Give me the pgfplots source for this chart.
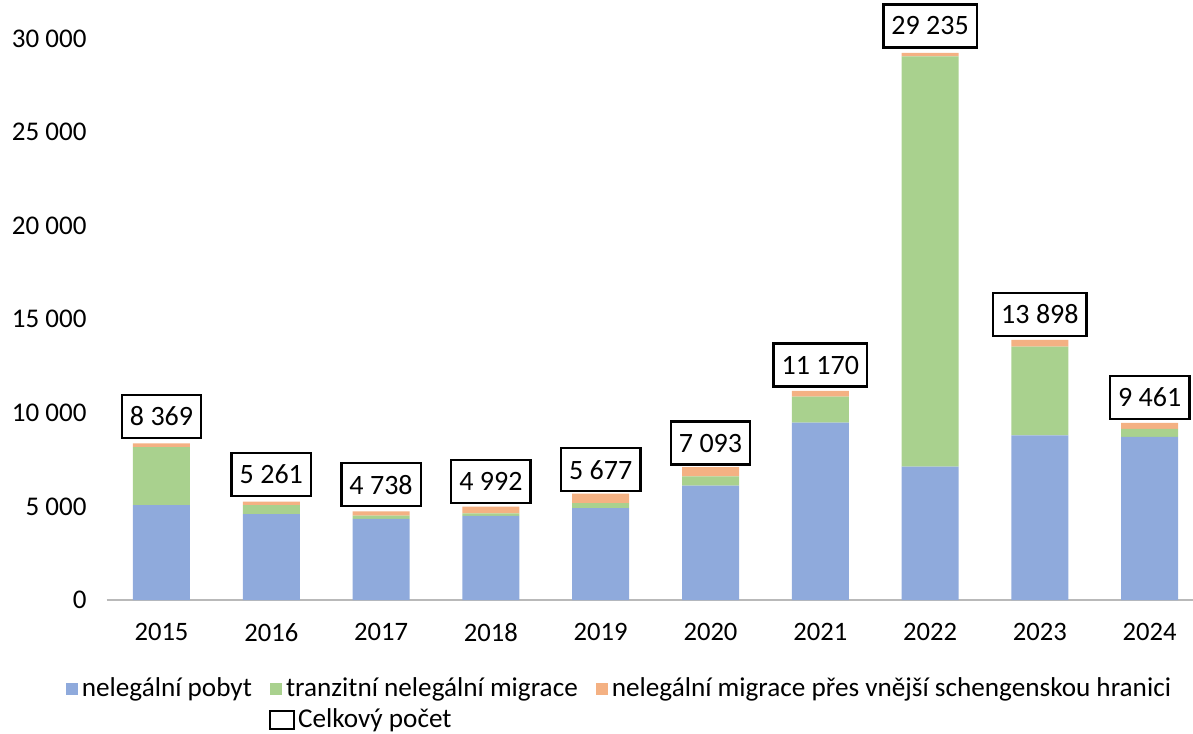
\documentclass[border=0pt]{standalone}
\usepackage{fontspec}
\setmainfont{Carlito}
\usepackage{pgfplots}
\usepackage{pgfplotstable}
\pgfplotsset{compat=1.18}
\definecolor{cblue}{HTML}{8FAADC}
\definecolor{cgreen}{HTML}{A9D18E}
\definecolor{corange}{HTML}{F4B183}
\pgfplotstableread{
x blue green orange total
0 5070 3100 199 8369
1 4590 480 191 5261
2 4330 180 228 4738
3 4500 130 362 4992
4 4910 270 497 5677
5 6110 490 493 7093
6 9480 1390 300 11170
7 7130 21910 195 29235
8 8800 4740 358 13898
9 8720 420 321 9461
}\data
\begin{document}
\begin{tikzpicture}
\path[use as bounding box] (-53.3pt,-66.5pt) rectangle (543.2pt,300pt);
\begin{axis}[
  at={(0,0)}, anchor=south west,
  scale only axis,
  width=549pt, height=299.5pt,
  ybar stacked, bar width=28.5pt,
  xmin=-0.5, xmax=9.5, ymin=0, ymax=32000,
  xtick={0,...,9},
  xticklabels={2015,2016,2017,2018,2019,2020,2021,2022,2023,2024},
  ytick={0,5000,10000,15000,20000,25000,30000},
  scaled y ticks=false,
  major tick length=0pt,
  /pgf/number format/.cd, fixed, precision=0, 1000 sep={\hspace{0.23em}}, assume math mode=true,
  /pgfplots/.cd,
  axis x line*=bottom, axis y line*=left,
  x axis line style={draw=gray!55, line width=0.8pt},
  y axis line style={draw=none},
  yticklabel style={font=\fontsize{13.5}{16}\selectfont, xshift=-6.5pt},
  xticklabel style={font=\fontsize{13.3}{16}\selectfont, yshift=-8pt},
  legend columns=3,
  legend style={at={(0.468,-0.1225)}, anchor=north, draw=none,
    font=\fontsize{13.6}{15}\selectfont,
    /tikz/every even column/.append style={column sep=7pt},
    /tikz/every odd column/.append style={column sep=0pt},
    row sep=0.5pt, inner sep=0pt},
  legend cell align=left,
  legend image code/.code={\fill[#1] (0pt,-3pt) rectangle (6pt,3pt);},
  clip=false,
]
\addplot[fill=cblue, draw=none] table[x=x,y=blue]{\data};
\addlegendentry{nelegální pobyt}
\addplot[fill=cgreen, draw=none] table[x=x,y=green]{\data};
\addlegendentry{tranzitní nelegální migrace}
\addplot[fill=corange, draw=none,
  nodes near coords, point meta=explicit,
  every node near coord/.append style={draw=black, line width=1.2pt, fill=white,
    text=black, font=\fontsize{14}{16}\selectfont, inner xsep=4pt, inner ysep=0pt,
    minimum height=21.5pt, anchor=south, yshift=3pt}]
  table[x=x,y=orange,meta=total]{\data};
\addlegendentry{nelegální migrace přes vnější schengenskou hranici}
\addlegendimage{empty legend}
\addlegendentry{}
\addlegendimage{legend image code/.code={\path[use as bounding box, draw=none, fill=none] (0pt,-4.5pt) rectangle (6pt,4.5pt); \draw[black,line width=1pt,fill=white] (0pt,-4.5pt) rectangle (12pt,4.5pt);}}
\addlegendentry{\hspace*{6pt}Celkový počet}
\end{axis}
\end{tikzpicture}
\end{document}
